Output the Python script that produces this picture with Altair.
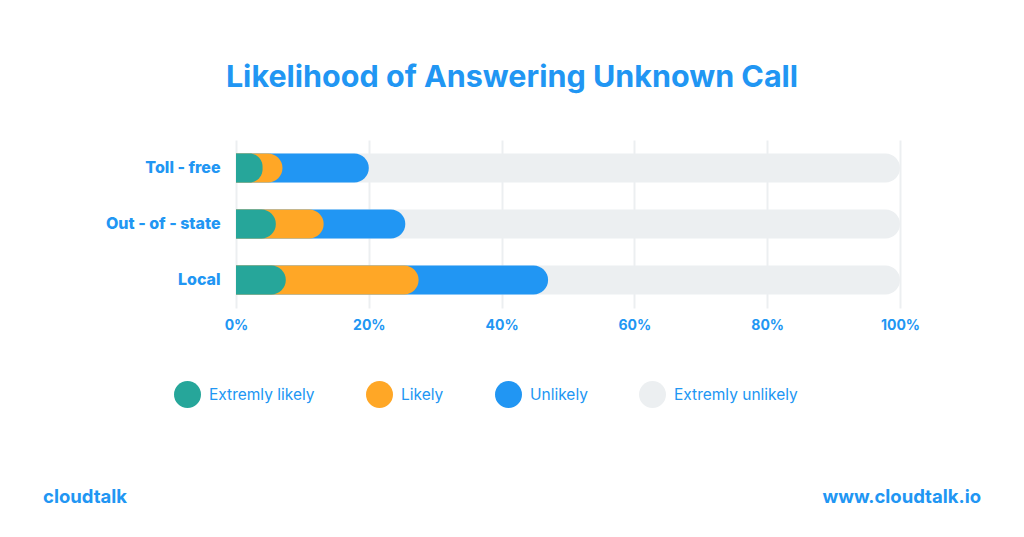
import altair as alt
import pandas as pd

categories = ["Toll - free", "Out - of - state", "Local"]
series = ["Extremly likely", "Likely", "Unlikely", "Extremly unlikely"]
colors = ["#26A69A", "#FFA726", "#2196F3", "#ECEFF1"]
values = {
    "Toll - free": [4, 3, 13, 80],
    "Out - of - state": [6, 7.2, 12.3, 74.5],
    "Local": [7.5, 20, 19.5, 53],
}
x_ticks = [0, 0.2, 0.4, 0.6, 0.8, 1.0]

BLUE = "#2196F3"
FONT = "Inter"

rows = []
for cat in categories:
    cum = 0
    for s, v in zip(series, values[cat]):
        cum += v
        rows.append({"category": cat, "series": s, "value": v / 100, "end": cum / 100,
                     "draw": series.index(s)})
df = pd.DataFrame(rows)
df = df.sort_values("draw", ascending=False).reset_index(drop=True)

bars = alt.Chart(df).mark_bar(size=29, cornerRadiusEnd=14.5).encode(
    y=alt.Y("category:N", sort=categories, title=None,
            axis=alt.Axis(labelFont=FONT, labelFontSize=16, labelFontWeight=800,
                          labelColor=BLUE, ticks=False, domain=False, labelPadding=16,
                          grid=False)),
    x=alt.X("end:Q", stack=None, title=None,
            scale=alt.Scale(domain=[0, 1], nice=False),
            axis=alt.Axis(values=x_ticks, format="%", labelFont=FONT, labelFontSize=14,
                          labelFontWeight="bold", labelColor=BLUE, ticks=False,
                          labelFlush=False, labelOverlap=False,
                          domain=False, labelPadding=10, grid=True, gridColor="#ECEFF1",
                          gridWidth=2)),
    color=alt.Color("series:N", scale=alt.Scale(domain=series, range=colors),
                    legend=alt.Legend(orient="none", legendX=-62, legendY=241,
                                      direction="horizontal", title=None,
                                      symbolType="circle", symbolSize=729,
                                      symbolStrokeWidth=0, symbolOpacity=1,
                                      labelFont=FONT, labelFontSize=15.5,
                                      labelColor=BLUE, labelOffset=8,
                                      columnPadding=51)),
)

title = alt.Chart(pd.DataFrame({"t": ["Likelihood of Answering Unknown Call"]})).mark_text(
    font=FONT, fontSize=30.5, fontWeight="bold", color=BLUE, align="center", baseline="middle"
).encode(text="t:N", x=alt.value(276), y=alt.value(-62))

left = alt.Chart(pd.DataFrame({"t": ["cloudtalk"]})).mark_text(
    font=FONT, fontSize=18.5, fontWeight="bold", color=BLUE, align="left", baseline="middle"
).encode(text="t:N", x=alt.value(-193), y=alt.value(357))

right = alt.Chart(pd.DataFrame({"t": ["www.cloudtalk.io"]})).mark_text(
    font=FONT, fontSize=18.5, fontWeight="bold", color=BLUE, align="right", baseline="middle"
).encode(text="t:N", x=alt.value(745), y=alt.value(357))

chart = alt.layer(bars, title, left, right).properties(
    width=664, height=168,
    autosize=alt.AutoSizeParams(type="none"),
    padding={"left": 236, "top": 140, "right": 124, "bottom": 229},
    background="white",
).configure_view(stroke=None)

chart.save("out.html", embed_options={"renderer": "svg", "actions": False})
